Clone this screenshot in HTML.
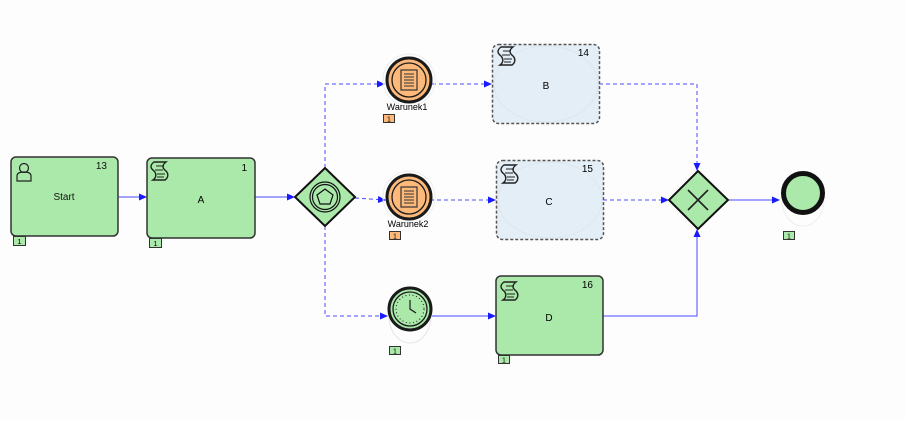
<!DOCTYPE html>
<html><head><meta charset="utf-8"><style>
html,body{margin:0;padding:0;background:#fdfdfe;}
svg{display:block;font-family:"Liberation Sans",sans-serif;}
</style></head><body>
<svg width="905" height="421" viewBox="0 0 905 421" xmlns="http://www.w3.org/2000/svg">
<defs>
<marker id="ar" markerWidth="8" markerHeight="8" refX="7" refY="4" orient="auto" markerUnits="userSpaceOnUse"><path d="M0,0.5 L8,4 L0,7.5 z" fill="#1a1aff"/></marker>
<g id="script"><path d="M3,1 h12 c-4,3 -4,6 0,9 c3,3 2,7 -1,9 h-12 c3,-2 4,-6 1,-9 c-4,-3 -4,-6 0,-9z" fill="none" stroke="#222" stroke-width="1.4"/><path d="M5,5h8M4,9h8M6,13h8M6,16h7" stroke="#222" stroke-width="0.9"/></g>
</defs>
<rect width="905" height="421" fill="#fdfdfe"/>
<!-- connectors solid -->
<g stroke="#4a4aff" stroke-width="1" fill="none">
<path d="M118,197 H146" marker-end="url(#ar)"/>
<path d="M255,197 H294" marker-end="url(#ar)"/>
<path d="M432,316 H495" marker-end="url(#ar)"/>
<path d="M603,316 H697 V230" marker-end="url(#ar)"/>
<path d="M728,200 H779" marker-end="url(#ar)"/>
</g>
<!-- dashed -->
<g stroke="#4a4aff" stroke-width="1" fill="none" stroke-dasharray="4,3">
<path d="M325,168 V84 H384" marker-end="url(#ar)"/>
<path d="M355,198 L385,200" marker-end="url(#ar)"/>
<path d="M325,226 V316 H387" marker-end="url(#ar)"/>
<path d="M432,84 H491" marker-end="url(#ar)"/>
<path d="M430,200 H495" marker-end="url(#ar)"/>
<path d="M599,84 H697 V170" marker-end="url(#ar)"/>
<path d="M603,200 H668" marker-end="url(#ar)"/>
</g>
<!-- Start -->
<rect x="11" y="157" width="107" height="79" rx="5" fill="#abe9ab" stroke="#333" stroke-width="1.5"/>
<g transform="translate(16,162)" fill="none" stroke="#222" stroke-width="1.2"><circle cx="8" cy="6" r="4.5"/><path d="M1,19 v-5 c0,-3 3,-4 7,-4 c4,0 7,1 7,4 v5 z"/></g>
<text x="107" y="169" font-size="10" text-anchor="end" fill="#111">13</text>
<text x="64" y="200" font-size="10" text-anchor="middle" fill="#111">Start</text>
<rect x="13.5" y="236.5" width="12" height="9" fill="#abe9ab" stroke="#333"/><text x="19.5" y="244" font-size="7.5" text-anchor="middle">1</text>
<!-- A -->
<rect x="147" y="158" width="108" height="80" rx="5" fill="#abe9ab" stroke="#333" stroke-width="1.5"/>
<use href="#script" x="151" y="161"/>
<text x="247" y="171" font-size="10" text-anchor="end">1</text>
<text x="201" y="203" font-size="10" text-anchor="middle">A</text>
<rect x="149.5" y="238.5" width="12" height="9" fill="#abe9ab" stroke="#333"/><text x="155.5" y="246" font-size="7.5" text-anchor="middle">1</text>
<!-- event gateway -->
<path d="M325,168 L355,197 L325,226 L295,197 Z" fill="#abe9ab" stroke="#111" stroke-width="2"/>
<circle cx="325" cy="197" r="15" fill="none" stroke="#111" stroke-width="1.2"/>
<circle cx="325" cy="197" r="12.5" fill="none" stroke="#111" stroke-width="1.2"/>
<path d="M325,189 L333,195 L330,204 L320,204 L317,195 Z" fill="none" stroke="#111" stroke-width="1.2"/>
<!-- Warunek1 -->
<circle cx="409" cy="80" r="26" fill="none" stroke="#eee"/>
<circle cx="409" cy="80" r="22" fill="#fdb97a" stroke="#1a1a1a" stroke-width="3"/>
<circle cx="409" cy="80" r="17" fill="none" stroke="#1a1a1a" stroke-width="1.3"/>
<rect x="401" y="70" width="16" height="20" fill="none" stroke="#333" stroke-width="1.2"/>
<path d="M404,74h10M404,77h10M404,80h10M404,83h10M404,86h10" stroke="#333" stroke-width="0.9"/>
<text x="407" y="110" font-size="9" text-anchor="middle">Warunek1</text>
<rect x="383.5" y="114.5" width="11" height="8" fill="#fdb97a" stroke="#333"/><text x="389" y="121.5" font-size="7" text-anchor="middle">1</text>
<!-- Warunek2 -->
<circle cx="409" cy="197" r="26" fill="none" stroke="#eee"/>
<circle cx="409" cy="197" r="22" fill="#fdb97a" stroke="#1a1a1a" stroke-width="3"/>
<circle cx="409" cy="197" r="17" fill="none" stroke="#1a1a1a" stroke-width="1.3"/>
<rect x="401" y="187" width="16" height="20" fill="none" stroke="#333" stroke-width="1.2"/>
<path d="M404,191h10M404,194h10M404,197h10M404,200h10M404,203h10" stroke="#333" stroke-width="0.9"/>
<text x="408" y="227" font-size="9" text-anchor="middle">Warunek2</text>
<rect x="389.5" y="231.5" width="11" height="8" fill="#fdb97a" stroke="#333"/><text x="395" y="238.5" font-size="7" text-anchor="middle">1</text>
<!-- Timer -->
<ellipse cx="410" cy="316" rx="21" ry="27" fill="none" stroke="#e6e6e6"/>
<circle cx="410" cy="309" r="21" fill="#abe9ab" stroke="#1a1a1a" stroke-width="3"/>
<circle cx="410" cy="309" r="17" fill="none" stroke="#1a1a1a" stroke-width="1.3"/>
<circle cx="410" cy="309" r="14" fill="none" stroke="#1a1a1a" stroke-width="1" stroke-dasharray="1,2.6"/>
<path d="M410,300 V309 L416,313" fill="none" stroke="#1a1a1a" stroke-width="1.2"/>
<rect x="389.5" y="346.5" width="11" height="8" fill="#abe9ab" stroke="#333"/><text x="395" y="353.5" font-size="7" text-anchor="middle">1</text>
<!-- B -->
<rect x="492.5" y="44.5" width="107" height="79" rx="6" fill="#e4eef6" stroke="#555" stroke-width="1.5" stroke-dasharray="3,2"/>
<ellipse cx="546" cy="84" rx="52" ry="38" fill="none" stroke="#dde6ee"/>
<use href="#script" x="498" y="46"/>
<text x="589" y="56" font-size="10" text-anchor="end">14</text>
<text x="546" y="89" font-size="10" text-anchor="middle">B</text>
<!-- C -->
<rect x="496.5" y="160.5" width="107" height="79" rx="6" fill="#e4eef6" stroke="#555" stroke-width="1.5" stroke-dasharray="3,2"/>
<ellipse cx="550" cy="200" rx="52" ry="38" fill="none" stroke="#dde6ee"/>
<use href="#script" x="501" y="164"/>
<text x="593" y="172" font-size="10" text-anchor="end">15</text>
<text x="549" y="205" font-size="10" text-anchor="middle">C</text>
<!-- D -->
<rect x="496" y="276" width="107" height="79" rx="5" fill="#abe9ab" stroke="#333" stroke-width="1.5"/>
<use href="#script" x="501" y="281"/>
<text x="593" y="288" font-size="10" text-anchor="end">16</text>
<text x="549" y="321" font-size="10" text-anchor="middle">D</text>
<rect x="498.5" y="355.5" width="11" height="8" fill="#abe9ab" stroke="#333"/><text x="504" y="362.5" font-size="7" text-anchor="middle">1</text>
<!-- XOR -->
<path d="M698,171 L728,200 L698,229 L669,200 Z" fill="#abe9ab" stroke="#111" stroke-width="2"/>
<path d="M688,190 L708,210 M708,190 L688,210" stroke="#222" stroke-width="1.6"/>
<!-- End -->
<ellipse cx="803" cy="200" rx="21" ry="26" fill="none" stroke="#eee"/>
<circle cx="803" cy="193" r="19.5" fill="#abe9ab" stroke="#111" stroke-width="5"/>
<rect x="783.5" y="231.5" width="11" height="8" fill="#abe9ab" stroke="#333"/><text x="789" y="238.5" font-size="7" text-anchor="middle">1</text>
</svg>
</body></html>
